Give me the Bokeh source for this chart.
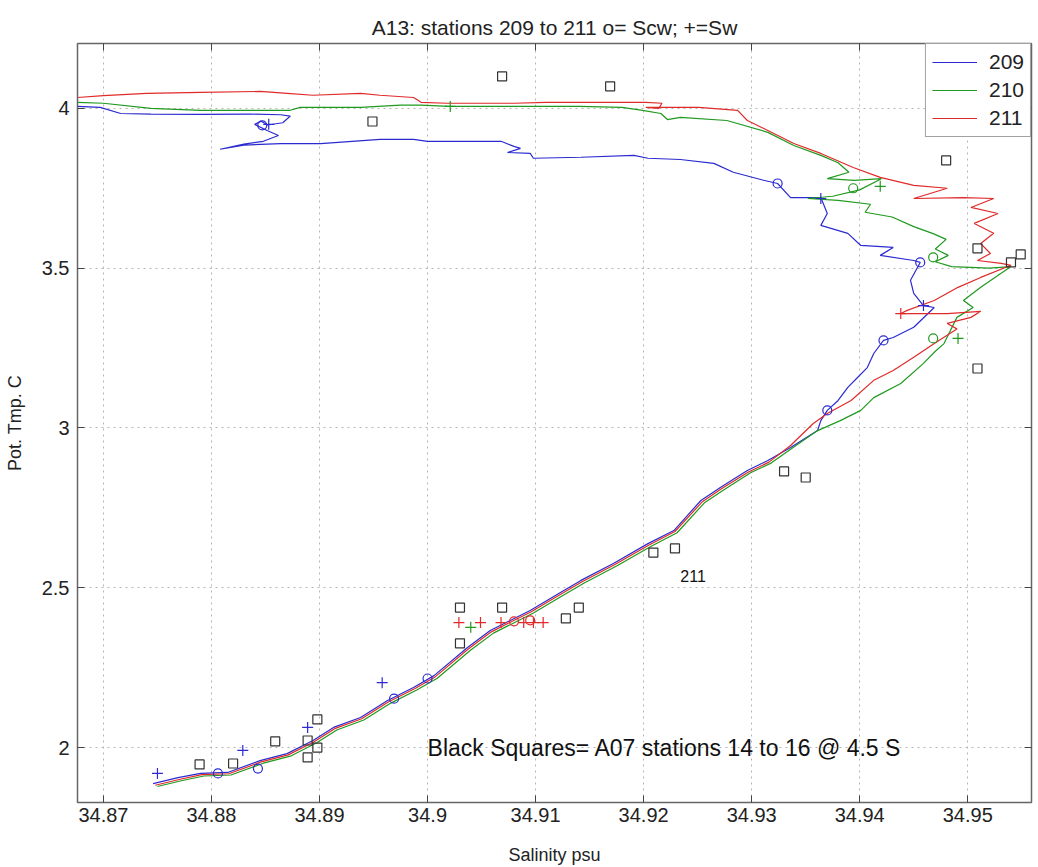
from bokeh.plotting import figure
from bokeh.models import Range1d, FixedTicker, LinearAxis, Legend, LegendItem
from bokeh.core.properties import value
from bokeh.embed import file_html
from bokeh.resources import INLINE

# ---------------- data (salinity psu, potential temperature C) ----------------
s209 = [34.8676, 34.8697, 34.8716, 34.8744, 34.8790, 34.8836, 34.8864, 34.8873, 34.8866, 34.8852,
        34.8846, 34.8840, 34.8852, 34.8862, 34.8848, 34.8830, 34.8808, 34.8830, 34.8864, 34.8901,
        34.8956, 34.8987, 34.9000, 34.9068, 34.9080, 34.9086, 34.9074, 34.9095, 34.9098, 34.9142,
        34.9191, 34.9204, 34.9234, 34.9265, 34.9283, 34.9311, 34.9324, 34.9336, 34.9364, 34.9370,
        34.9364, 34.9389, 34.9401, 34.9431, 34.9419, 34.9450, 34.9456, 34.9447, 34.9450, 34.9459,
        34.9469, 34.9450, 34.9431, 34.9422, 34.9413, 34.9407, 34.9398, 34.9389, 34.9380, 34.9370,
        34.9364, 34.9361, 34.9336, 34.9315, 34.9296, 34.9271, 34.9253, 34.9228, 34.9204, 34.9172,
        34.9142, 34.9123, 34.9095, 34.9058, 34.9037, 34.9006, 34.8987, 34.8963, 34.8938, 34.8913,
        34.8894, 34.8870, 34.8845, 34.8815, 34.8790, 34.8769, 34.8746]
t209 = [4.006, 4.003, 3.984, 3.982, 3.981, 3.982, 3.980, 3.976, 3.955, 3.948,
        3.960, 3.950, 3.930, 3.915, 3.897, 3.888, 3.872, 3.885, 3.890, 3.890,
        3.903, 3.903, 3.897, 3.897, 3.881, 3.875, 3.862, 3.859, 3.844, 3.847,
        3.853, 3.844, 3.840, 3.828, 3.800, 3.775, 3.765, 3.721, 3.721, 3.671,
        3.634, 3.609, 3.571, 3.565, 3.540, 3.524, 3.518, 3.462, 3.421, 3.383,
        3.377, 3.315, 3.283, 3.274, 3.233, 3.189, 3.158, 3.127, 3.086, 3.055,
        3.023, 2.992, 2.939, 2.898, 2.867, 2.814, 2.773, 2.679, 2.638, 2.576,
        2.523, 2.485, 2.429, 2.366, 2.313, 2.225, 2.188, 2.147, 2.094, 2.063,
        2.022, 1.981, 1.959, 1.922, 1.919, 1.906, 1.887]

s210 = [34.8676, 34.8700, 34.8744, 34.8790, 34.8845, 34.8873, 34.8882, 34.8938, 34.8975, 34.8994,
        34.9020, 34.9080, 34.9140, 34.9180, 34.9199, 34.9216, 34.9222, 34.9234, 34.9277, 34.9315,
        34.9339, 34.9364, 34.9380, 34.9390, 34.9370, 34.9395, 34.9420, 34.9400, 34.9375, 34.9352,
        34.9380, 34.9410, 34.9405, 34.9430, 34.9450, 34.9468, 34.9480, 34.9470, 34.9482, 34.9470,
        34.9485, 34.9520, 34.9540, 34.9512, 34.9496, 34.9505, 34.9490, 34.9478, 34.9470, 34.9459,
        34.9438, 34.9413, 34.9401, 34.9382, 34.9360, 34.9338, 34.9318, 34.9299, 34.9274, 34.9256,
        34.9231, 34.9207, 34.9175, 34.9145, 34.9126, 34.9098, 34.9061, 34.9040, 34.9009, 34.8990,
        34.8966, 34.8941, 34.8916, 34.8897, 34.8873, 34.8848, 34.8818, 34.8793, 34.8772, 34.8750]
t210 = [4.019, 4.016, 4.000, 3.994, 3.994, 3.994, 4.003, 4.003, 4.010, 4.010,
        4.006, 4.006, 4.006, 4.003, 3.994, 3.984, 3.965, 3.972, 3.962, 3.925,
        3.884, 3.853, 3.830, 3.800, 3.780, 3.775, 3.780, 3.745, 3.725, 3.718,
        3.712, 3.700, 3.675, 3.660, 3.630, 3.608, 3.590, 3.560, 3.540, 3.520,
        3.505, 3.500, 3.505, 3.440, 3.399, 3.377, 3.346, 3.264, 3.240, 3.202,
        3.139, 3.095, 3.055, 3.023, 2.990, 2.938, 2.890, 2.860, 2.806, 2.765,
        2.672, 2.630, 2.568, 2.515, 2.477, 2.421, 2.358, 2.305, 2.217, 2.180,
        2.139, 2.086, 2.055, 2.014, 1.973, 1.951, 1.914, 1.911, 1.896, 1.878]

s211 = [34.8676, 34.8700, 34.8740, 34.8790, 34.8845, 34.8870, 34.8894, 34.8938, 34.8956, 34.8987,
        34.8994, 34.9018, 34.9080, 34.9110, 34.9165, 34.9202, 34.9217, 34.9214, 34.9202, 34.9251,
        34.9287, 34.9296, 34.9315, 34.9339, 34.9364, 34.9394, 34.9419, 34.9450, 34.9481, 34.9450,
        34.9496, 34.9524, 34.9503, 34.9528, 34.9506, 34.9524, 34.9512, 34.9521, 34.9509, 34.9531,
        34.9540, 34.9512, 34.9491, 34.9469, 34.9444, 34.9438, 34.9481, 34.9512, 34.9503, 34.9481,
        34.9490, 34.9469, 34.9450, 34.9431, 34.9413, 34.9392, 34.9370, 34.9357, 34.9336, 34.9316,
        34.9297, 34.9272, 34.9254, 34.9229, 34.9205, 34.9173, 34.9143, 34.9124, 34.9096, 34.9059,
        34.9038, 34.9007, 34.8988, 34.8964, 34.8939, 34.8914, 34.8895, 34.8871, 34.8846, 34.8816,
        34.8791, 34.8770, 34.8748]
t211 = [4.034, 4.040, 4.047, 4.050, 4.053, 4.047, 4.041, 4.047, 4.041, 4.034,
        4.019, 4.016, 4.016, 4.019, 4.019, 4.019, 4.016, 4.000, 4.003, 4.003,
        3.994, 3.962, 3.931, 3.890, 3.859, 3.815, 3.784, 3.759, 3.750, 3.718,
        3.721, 3.718, 3.690, 3.671, 3.640, 3.609, 3.577, 3.546, 3.524, 3.515,
        3.509, 3.471, 3.440, 3.399, 3.368, 3.358, 3.358, 3.365, 3.346, 3.327,
        3.310, 3.264, 3.221, 3.180, 3.149, 3.086, 3.045, 3.014, 2.945, 2.893,
        2.862, 2.810, 2.768, 2.676, 2.634, 2.572, 2.519, 2.481, 2.425, 2.362,
        2.309, 2.221, 2.184, 2.143, 2.090, 2.059, 2.018, 1.977, 1.955, 1.918,
        1.915, 1.900, 1.882]

# Scw (circles) and Sw (plus) markers per station
c209_s = [34.8847, 34.9324, 34.9456, 34.9422, 34.9370, 34.9000, 34.8969, 34.8806, 34.8843]
c209_t = [3.947, 3.765, 3.518, 3.274, 3.055, 2.216, 2.153, 1.919, 1.934]
c210_s = [34.9394, 34.9468, 34.9468]
c210_t = [3.750, 3.534, 3.280]
c211_s = [34.9080, 34.9095]
c211_t = [2.395, 2.398]
p209_s = [34.8853, 34.9364, 34.9459, 34.8750, 34.8829, 34.8889, 34.8958]
p209_t = [3.950, 3.718, 3.383, 1.919, 1.991, 2.063, 2.203]
p210_s = [34.9419, 34.9491, 34.9040, 34.9021]
p210_t = [3.756, 3.280, 2.376, 4.006]
p211_s = [34.9029, 34.9049, 34.9068, 34.9089, 34.9098, 34.9107, 34.9438]
p211_t = [2.391, 2.391, 2.391, 2.391, 2.391, 2.391, 3.358]

# A07 stations 14-16 (black squares)
sq_s = [34.9069, 34.9169, 34.8949, 34.9480, 34.9509, 34.9549, 34.9540, 34.9509, 34.9330, 34.9350,
        34.9209, 34.9229, 34.9030, 34.9069, 34.9128, 34.9140, 34.9030, 34.8789, 34.8820, 34.8859,
        34.8889, 34.8889, 34.8898, 34.8898]
sq_t = [4.100, 4.069, 3.959, 3.837, 3.562, 3.543, 3.518, 3.186, 2.864, 2.845,
        2.610, 2.623, 2.438, 2.438, 2.404, 2.438, 2.326, 1.947, 1.950, 2.019,
        2.022, 1.969, 2.088, 2.000]

stations = ["209", "210", "211"]
x_ticks = [34.87, 34.88, 34.89, 34.90, 34.91, 34.92, 34.93, 34.94, 34.95]
x_tick_labels = ["34.87", "34.88", "34.89", "34.9", "34.91", "34.92", "34.93", "34.94", "34.95"]
y_ticks = [2.0, 2.5, 3.0, 3.5, 4.0]
y_tick_labels = ["2", "2.5", "3", "3.5", "4"]

label_s = [34.9234]
label_t = [2.538]
label_text = ["211"]
note_s = [34.9000]
note_t = [2.000]
note_text = ["Black Squares= A07 stations 14 to 16 @ 4.5 S"]

# ---------------- figure ----------------
FONT = "Liberation Sans"
colors = {"209": "#2b2bd0", "210": "#1f9a1f", "211": "#e02a2a"}

p = figure(width=1036, height=867, output_backend="svg", toolbar_location=None,
           x_range=Range1d(34.8676, 34.9559), y_range=Range1d(1.828, 4.203),
           min_border_left=77, min_border_right=5, min_border_top=43, min_border_bottom=65,
           title="A13: stations 209 to 211 o= Scw; +=Sw")
p.title.align = "center"
p.title.text_font = FONT
p.title.text_font_style = "normal"
p.title.text_font_size = "21px"
p.title.text_color = "#222222"
p.outline_line_color = "#666666"
p.outline_line_width = 1.5

p.xaxis.axis_label = "Salinity psu"
p.yaxis.axis_label = "Pot. Tmp. C"
for ax, ticks, labels in ((p.xaxis[0], x_ticks, x_tick_labels), (p.yaxis[0], y_ticks, y_tick_labels)):
    ax.ticker = FixedTicker(ticks=ticks)
    ax.major_label_overrides = {t: l for t, l in zip(ticks, labels)}
    ax.major_label_text_font = FONT
    ax.major_label_text_font_size = "20px"
    ax.major_label_text_color = "#222222"
    ax.axis_label_text_font = FONT
    ax.axis_label_text_font_style = "normal"
    ax.axis_label_text_font_size = "18px"
    ax.axis_label_text_color = "#222222"
    ax.major_tick_in = 7
    ax.major_tick_out = 0
    ax.minor_tick_line_color = None
    ax.axis_line_color = "#666666"
    ax.major_tick_line_color = "#444444"
p.xaxis.major_label_standoff = 5
p.yaxis.major_label_standoff = 8
p.xaxis.axis_label_standoff = 20
p.yaxis.axis_label_standoff = 14

top_ax = LinearAxis(ticker=FixedTicker(ticks=x_ticks), major_label_text_font_size="0px",
                    major_tick_in=7, major_tick_out=0, minor_tick_line_color=None,
                    axis_line_color="#666666", major_tick_line_color="#444444")
right_ax = LinearAxis(ticker=FixedTicker(ticks=y_ticks), major_label_text_font_size="0px",
                      major_tick_in=7, major_tick_out=0, minor_tick_line_color=None,
                      axis_line_color="#666666", major_tick_line_color="#444444")
p.add_layout(top_ax, "above")
p.add_layout(right_ax, "right")

p.xgrid.ticker = FixedTicker(ticks=x_ticks)
p.ygrid.ticker = FixedTicker(ticks=y_ticks)
p.grid.grid_line_color = "#b5b5b5"
p.grid.grid_line_dash = "dotted"
p.grid.grid_line_width = 1

lines = {}
for st, xs, ys in (("209", s209, t209), ("210", s210, t210), ("211", s211, t211)):
    lines[st] = p.line(xs, ys, line_color=colors[st], line_width=1.2)

for xs, ys, st in ((c209_s, c209_t, "209"), (c210_s, c210_t, "210"), (c211_s, c211_t, "211")):
    p.scatter(xs, ys, marker="circle", size=9, fill_color=None, line_color=colors[st], line_width=1.2)
for xs, ys, st in ((p209_s, p209_t, "209"), (p210_s, p210_t, "210"), (p211_s, p211_t, "211")):
    p.scatter(xs, ys, marker="cross", size=11, line_color=colors[st], line_width=1.2)

p.scatter(sq_s, sq_t, marker="square", size=9, fill_color=None, line_color="#333333", line_width=1.2)

p.text(label_s, label_t, text=label_text, text_font=value(FONT), text_font_size="16px",
       text_baseline="middle", text_align="left", text_color="#111111")
p.text(note_s, note_t, text=note_text, text_font=value(FONT), text_font_size="23px",
       text_baseline="middle", text_align="left", text_color="#111111")

legend = Legend(items=[LegendItem(label=st, renderers=[lines[st]]) for st in stations],
                location="top_right", margin=0, padding=6, spacing=4,
                glyph_width=45, label_standoff=12,
                label_text_font=FONT, label_text_font_size="21px", label_text_color="#222222",
                border_line_color="#444444", border_line_width=1.2,
                background_fill_color="white", background_fill_alpha=1.0)
p.add_layout(legend)

open("out.html", "w").write(file_html(p, INLINE))
